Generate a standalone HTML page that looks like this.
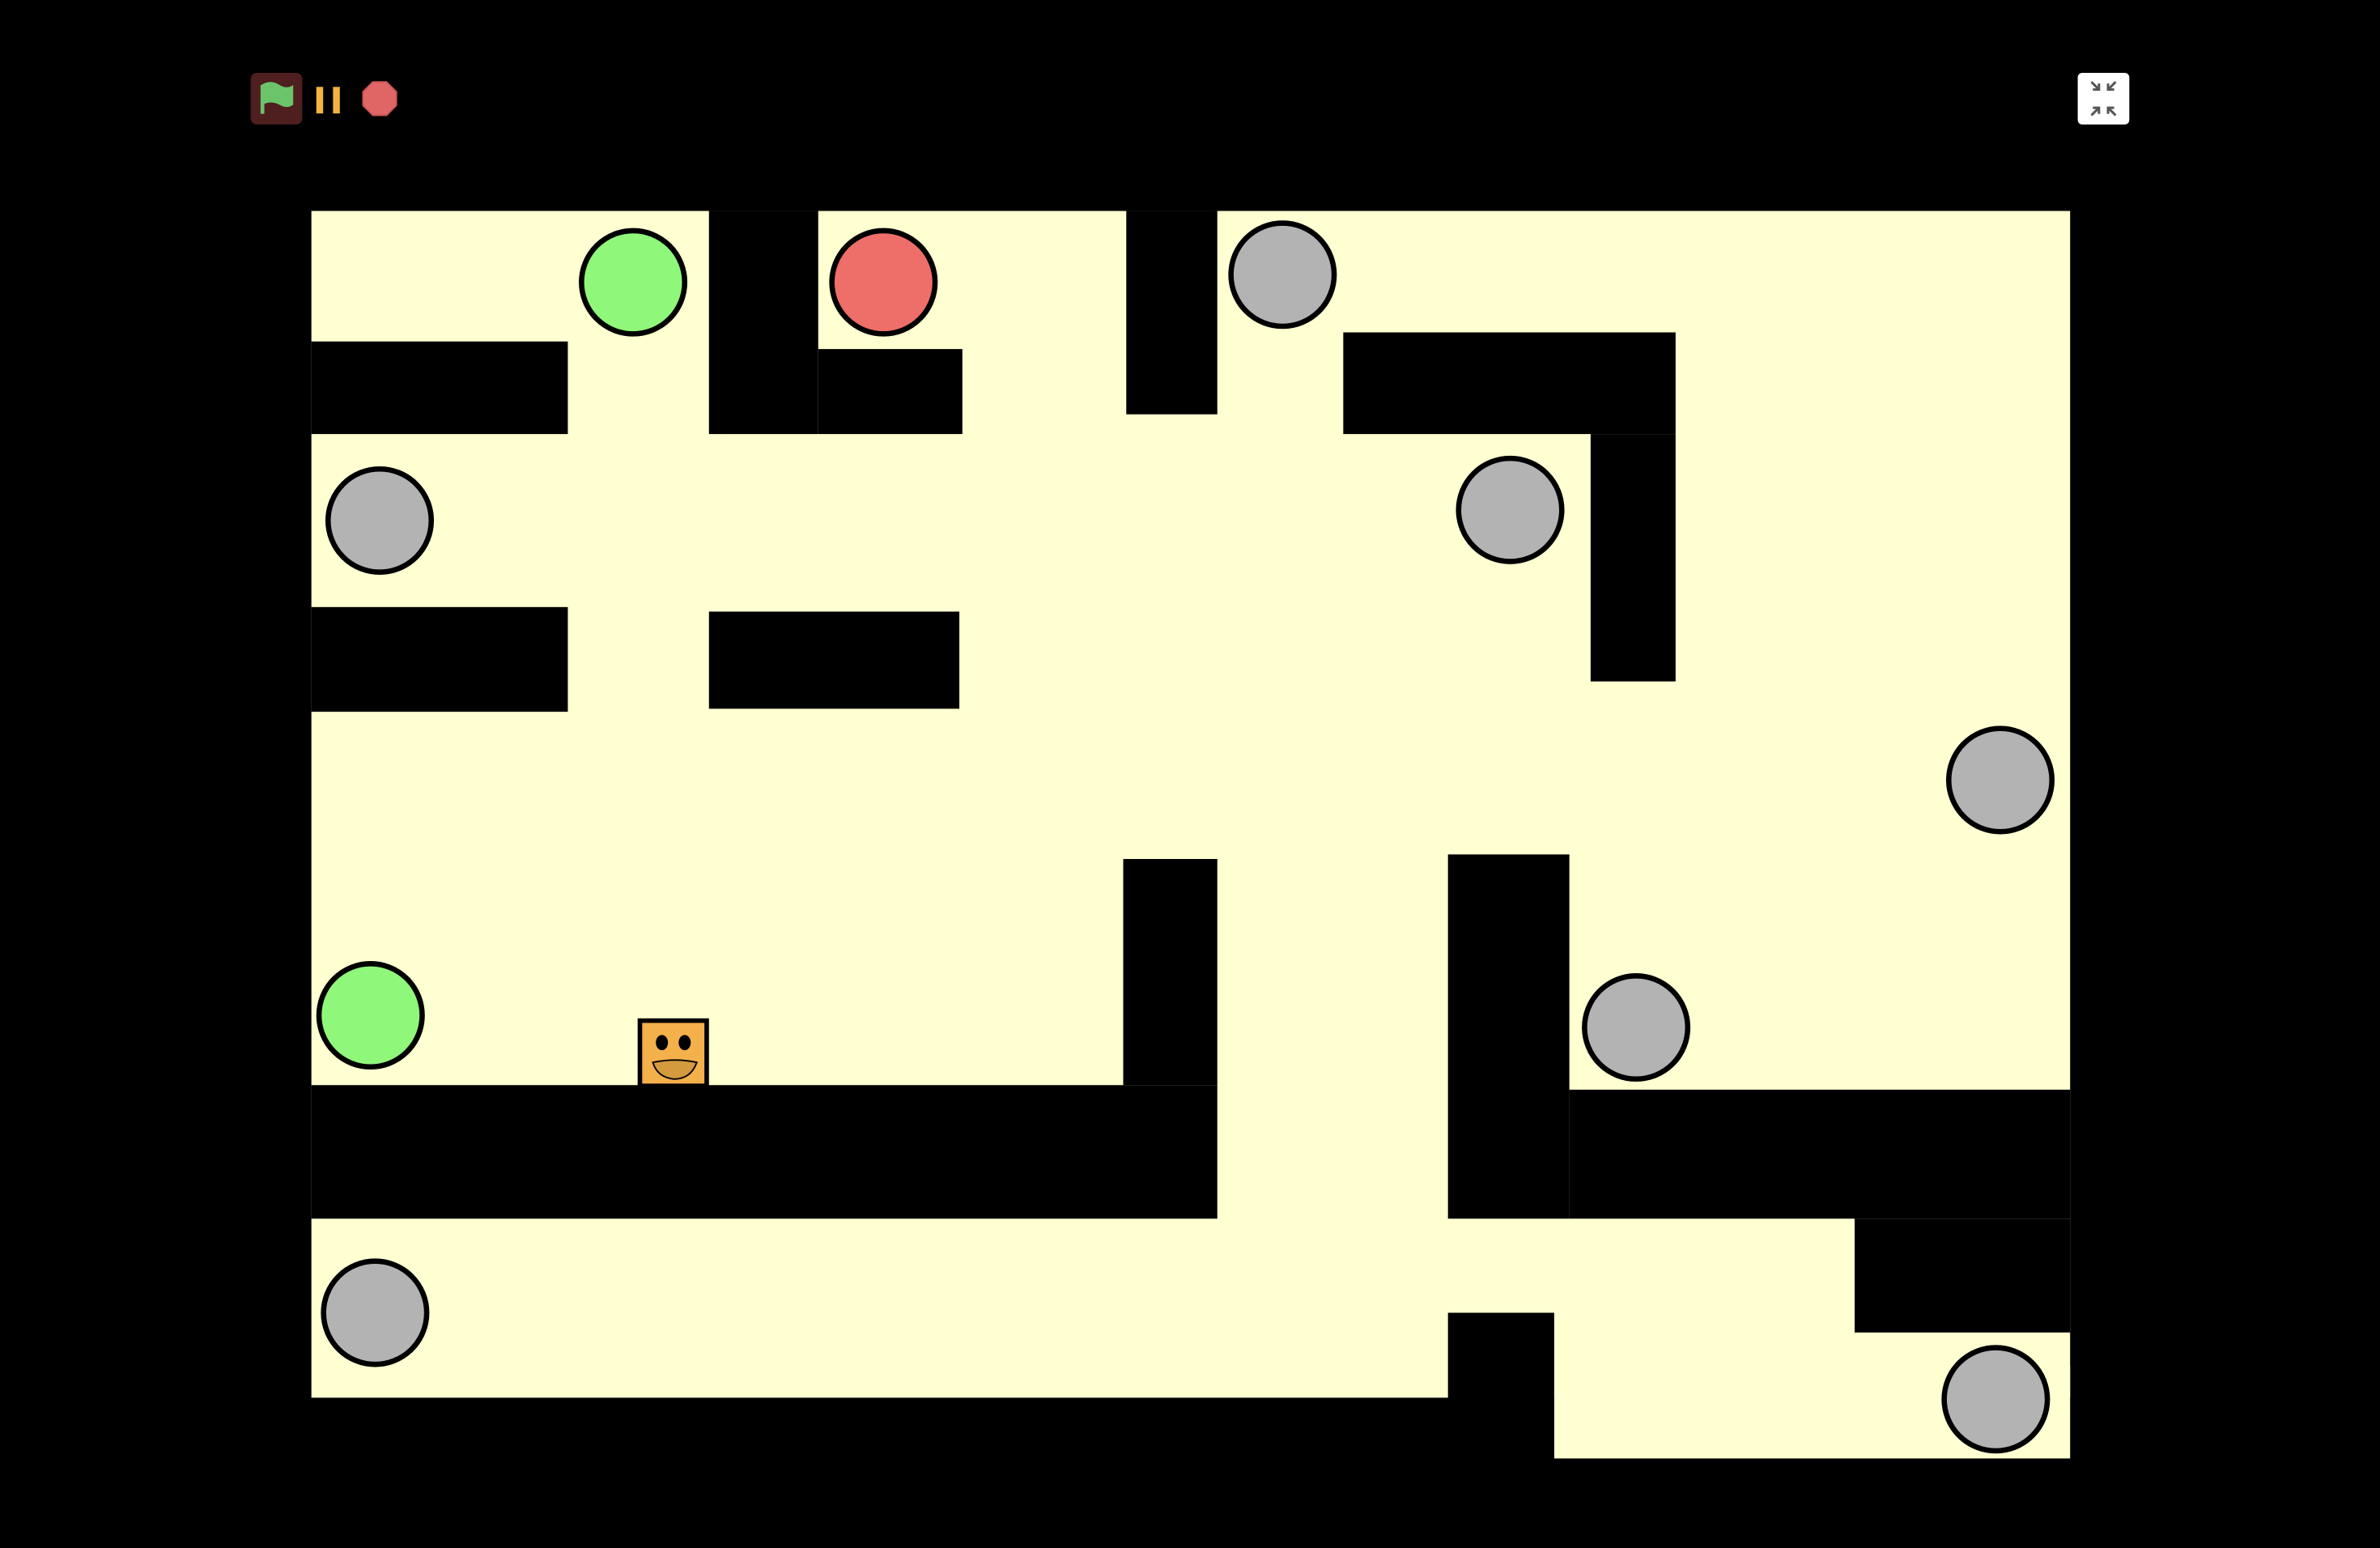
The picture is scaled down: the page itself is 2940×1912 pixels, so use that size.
<!DOCTYPE html>
<html><head><style>html,body{margin:0;padding:0;background:#000;}svg{display:block}</style></head>
<body>
<svg width="2940" height="1912" viewBox="0 0 1568 1020" xmlns="http://www.w3.org/2000/svg">
<rect width="1568" height="1020" fill="#000"/>
<!-- cream -->
<g fill="#ffffd1">
<rect x="205" y="139" width="1159" height="782"/>
<rect x="1024" y="900" width="340" height="61"/>
</g>
<!-- walls -->
<g fill="#000">
<rect x="467" y="139" width="72" height="147"/>
<rect x="539" y="230" width="95" height="56"/>
<rect x="742" y="139" width="60" height="134"/>
<rect x="885" y="219" width="219" height="67"/>
<rect x="1048" y="286" width="56" height="163"/>
<rect x="205" y="225" width="169" height="61"/>
<rect x="205" y="400" width="169" height="69"/>
<rect x="467" y="403" width="165" height="64"/>
<rect x="740" y="566" width="62" height="149"/>
<rect x="205" y="715" width="597" height="88"/>
<rect x="954" y="563" width="80" height="240"/>
<rect x="1034" y="718" width="330" height="85"/>
<rect x="1222" y="803" width="142" height="75"/>
<rect x="954" y="865" width="70" height="100"/>
<rect x="205" y="921" width="749" height="50"/>
</g>
<!-- circles -->
<g stroke="#000" stroke-width="3.5">
<circle cx="417" cy="186" r="34" fill="#8ff77a"/>
<circle cx="582" cy="186" r="34" fill="#ee6e6a"/>
<circle cx="845" cy="181" r="34" fill="#b3b3b3"/>
<circle cx="250" cy="343" r="34" fill="#b3b3b3"/>
<circle cx="995" cy="336" r="34" fill="#b3b3b3"/>
<circle cx="1318" cy="514" r="34" fill="#b3b3b3"/>
<circle cx="244" cy="669" r="34" fill="#8ff77a"/>
<circle cx="1078" cy="677" r="34" fill="#b3b3b3"/>
<circle cx="247" cy="865" r="34" fill="#b3b3b3"/>
<circle cx="1315" cy="922" r="34" fill="#b3b3b3"/>
</g>
<!-- player -->
<rect x="421.5" y="672.5" width="44" height="43" fill="#f4b04a" stroke="#000" stroke-width="3"/>
<ellipse cx="436" cy="687" rx="4" ry="5" fill="#000"/>
<ellipse cx="451" cy="687" rx="4" ry="5" fill="#000"/>
<path d="M430 700 Q445 697 459 700 Q455 711 444 711 Q433 710 430 700 Z" fill="#d39a3e" stroke="#000" stroke-width="1"/>
<!-- toolbar -->
<rect x="165" y="48" width="34" height="34" rx="4" fill="#4f1f1f"/>
<path d="M172 56 Q178 52 184 56 Q189 59 193 56 L193 69 Q189 72 184 69 Q178 66 173 69 Z" fill="#6cc46a"/>
<rect x="171.5" y="56" width="2.5" height="19" fill="#6cc46a"/>
<rect x="208" y="57" width="5" height="18" fill="#f4b340" stroke="#000" stroke-width="0.5"/>
<rect x="219" y="57" width="5" height="18" fill="#f4b340" stroke="#000" stroke-width="0.5"/>
<polygon points="245.5,54 254.5,54 261,60.5 261,69.5 254.5,76 245.5,76 239,69.5 239,60.5" fill="#e06666" stroke="#c85555" stroke-width="1"/>
<rect x="1369" y="48" width="34" height="34" rx="3" fill="#fff"/>
<g stroke="#555" stroke-width="1.6" fill="none">
<path d="M1379 59 L1383 59 L1383 55 M1378 54 L1383 59"/>
<path d="M1393 59 L1389 59 L1389 55 M1394 54 L1389 59"/>
<path d="M1379 71 L1383 71 L1383 75 M1378 76 L1383 71"/>
<path d="M1393 71 L1389 71 L1389 75 M1394 76 L1389 71"/>
</g>
</svg>
</body></html>
